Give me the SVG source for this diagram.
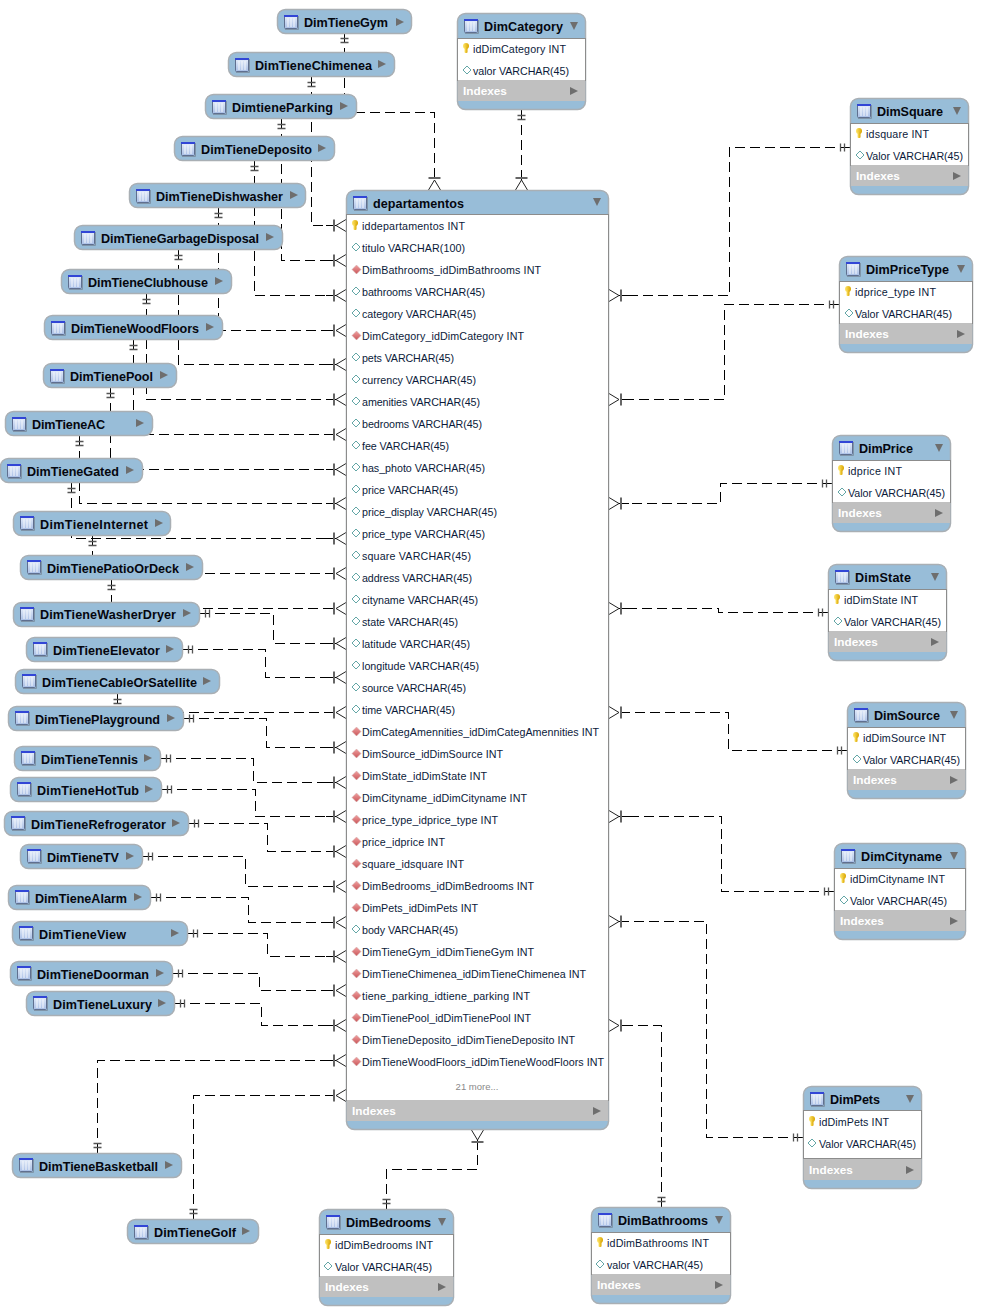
<svg xmlns="http://www.w3.org/2000/svg" width="992" height="1316" viewBox="0 0 992 1316">
<style>
text{font-family:"Liberation Sans",Arial,sans-serif}
.bg{fill:#fff}
.n,.t{fill:#98bdd8;stroke:#a9afb4;stroke-width:1.5}
.b{fill:#fff;stroke:#8c8c8c;stroke-width:1}
.ix{fill:#c0c0c0;stroke:none}
.tt{font-size:12.6px;font-weight:700;fill:#05070f}
.r{font-size:10.7px;fill:#0b1a3a}
.ixt{font-size:11.8px;font-weight:700;fill:#fff}
.more{font-size:9.5px;fill:#8a8a8a}
.tri{fill:#6e6e6e}
.c{fill:none;stroke:#000;stroke-width:1;stroke-dasharray:10 5;shape-rendering:crispEdges;marker-start:url(#one);marker-end:url(#many)}
</style>
<defs>
<linearGradient id="ig" x1="0" y1="0" x2="0" y2="1"><stop offset="0" stop-color="#e6eefa"/><stop offset="1" stop-color="#a9bfe6"/></linearGradient>
<linearGradient id="kg" x1="0" y1="0" x2="1" y2="0"><stop offset="0" stop-color="#ffe66a"/><stop offset="1" stop-color="#d9a400"/></linearGradient>
<linearGradient id="fg" x1="0" y1="0" x2="0" y2="1"><stop offset="0" stop-color="#f0a0a0"/><stop offset="1" stop-color="#c95558"/></linearGradient>
<g id="ico"><rect x="0.5" y="0.5" width="13" height="13" rx="1" fill="url(#ig)" stroke="#5f6f8f"/><rect x="0" y="0" width="14" height="2" fill="#3246d6"/><path d="M4 3V12M7 3V12M10 3V12" stroke="#f4f7fc" stroke-width="1" fill="none"/><path d="M1 14.5H14.5V1" stroke="#7f94a8" fill="none"/></g>
<g id="key"><ellipse cx="3" cy="3" rx="3" ry="3" fill="url(#kg)"/><rect x="1.5" y="4" width="3" height="6" rx="1" fill="url(#kg)"/></g>
<path id="dia" d="M0 4L4 0L8 4L4 8Z" fill="#fff" stroke="#63a6a6"/>
<path id="fk" d="M0 4.5L4.5 0L9 4.5L4.5 9Z" fill="url(#fg)" stroke="#d0b0b0" stroke-width=".5"/>
<path id="rt" d="M0 0L8 4L0 8Z" class="tri"/>
<path id="dn" d="M0 0H8L4 8Z" class="tri"/>
<marker id="many" markerUnits="userSpaceOnUse" markerWidth="24" markerHeight="16" refX="4" refY="8" orient="auto" overflow="visible"><path d="M-6 8H2" stroke="#000" stroke-width="1" fill="none"/><path d="M2 2V14" stroke="#666" stroke-width="2" fill="none"/><path d="M4 8L14 2M4 8L14 14" stroke="#222" stroke-width="1" fill="none"/></marker>
<marker id="one" markerUnits="userSpaceOnUse" markerWidth="16" markerHeight="12" refX="0" refY="6" orient="auto" overflow="visible"><path d="M5.5 2V10M9.5 2V10" stroke="#555" stroke-width="1.3" fill="none"/></marker>
</defs>
<rect class="bg" x="0" y="0" width="992" height="1316"/>
<g id="connectors">
<path class="c" d="M344.5 33V112.5H434.5V180"/>
<path class="c" d="M521.5 110V180"/>
<path class="c" d="M311.5 77V225.5H336"/>
<path class="c" d="M281.5 119V260.5H336"/>
<path class="c" d="M254.5 161V295.5H336"/>
<path class="c" d="M218.5 208V330.5H336"/>
<path class="c" d="M178.5 250V364.5H336"/>
<path class="c" d="M146.5 294V399.5H336"/>
<path class="c" d="M133.5 340V434.5H336"/>
<path class="c" d="M110.5 388V469.5H336"/>
<path class="c" d="M79.5 436V503.5H336"/>
<path class="c" d="M71.5 483V538.5H336"/>
<path class="c" d="M92.5 536V573.5H336"/>
<path class="c" d="M111.5 580V608.5H336"/>
<path class="c" d="M200 613.5H273.5V643.5H336"/>
<path class="c" d="M183 649.5H265.5V677.5H336"/>
<path class="c" d="M117.5 694V712.5H336"/>
<path class="c" d="M184 718.5H266.5V747.5H336"/>
<path class="c" d="M161 758.5H253.5V782.5H336"/>
<path class="c" d="M162 789.5H255.5V816.5H336"/>
<path class="c" d="M189 823.5H267.5V851.5H336"/>
<path class="c" d="M143 856.5H245.5V886.5H336"/>
<path class="c" d="M151 897.5H248.5V922.5H336"/>
<path class="c" d="M188 933.5H267.5V956.5H336"/>
<path class="c" d="M173 973.5H259.5V990.5H336"/>
<path class="c" d="M175 1003.5H261.5V1025.5H336"/>
<path class="c" d="M97.5 1153V1060.5H336"/>
<path class="c" d="M193.5 1219V1095.5H336"/>
<path class="c" d="M386.5 1209V1169.5H477.5V1140"/>
<path class="c" d="M661.5 1207V1025.5H619"/>
<path class="c" d="M850 147.5H729.5V295.5H619"/>
<path class="c" d="M839 304.5H724.5V399.5H619"/>
<path class="c" d="M832 483.5H720.5V503.5H619"/>
<path class="c" d="M828 612.5H718.5V608.5H619"/>
<path class="c" d="M847 750.5H728.5V712.5H619"/>
<path class="c" d="M834 891.5H721.5V816.5H619"/>
<path class="c" d="M803 1137.5H706.5V921.5H619"/>
</g>
<g id="DimTieneGym"><rect class="n" x="277.5" y="9.5" width="134" height="24" rx="8"/><use href="#ico" x="284" y="15"/><text class="tt" x="304" y="27" textLength="84">DimTieneGym</text><use href="#rt" x="396" y="18"/></g>
<g id="DimTieneChimenea"><rect class="n" x="228.5" y="52.5" width="166" height="24" rx="8"/><use href="#ico" x="235" y="58"/><text class="tt" x="255" y="70" textLength="117">DimTieneChimenea</text><use href="#rt" x="378" y="60"/></g>
<g id="DimtieneParking"><rect class="n" x="205.5" y="94.5" width="151" height="24" rx="8"/><use href="#ico" x="212" y="100"/><text class="tt" x="232" y="112" textLength="101">DimtieneParking</text><use href="#rt" x="340" y="102"/></g>
<g id="DimTieneDeposito"><rect class="n" x="174.5" y="136.5" width="160" height="24" rx="8"/><use href="#ico" x="181" y="142"/><text class="tt" x="201" y="154" textLength="111">DimTieneDeposito</text><use href="#rt" x="318" y="144"/></g>
<g id="DimTieneDishwasher"><rect class="n" x="129.5" y="183.5" width="176" height="24" rx="8"/><use href="#ico" x="136" y="189"/><text class="tt" x="156" y="201" textLength="127">DimTieneDishwasher</text><use href="#rt" x="290" y="191"/></g>
<g id="DimTieneGarbageDisposal"><rect class="n" x="74.5" y="225.5" width="208" height="24" rx="8"/><use href="#ico" x="81" y="231"/><text class="tt" x="101" y="243" textLength="158">DimTieneGarbageDisposal</text><use href="#rt" x="266" y="233"/></g>
<g id="DimTieneClubhouse"><rect class="n" x="61.5" y="269.5" width="170" height="24" rx="8"/><use href="#ico" x="68" y="275"/><text class="tt" x="88" y="287" textLength="120">DimTieneClubhouse</text><use href="#rt" x="215" y="277"/></g>
<g id="DimTieneWoodFloors"><rect class="n" x="44.5" y="315.5" width="178" height="24" rx="8"/><use href="#ico" x="51" y="321"/><text class="tt" x="71" y="333" textLength="128">DimTieneWoodFloors</text><use href="#rt" x="206" y="323"/></g>
<g id="DimTienePool"><rect class="n" x="43.5" y="363.5" width="133" height="24" rx="8"/><use href="#ico" x="50" y="369"/><text class="tt" x="70" y="381" textLength="83">DimTienePool</text><use href="#rt" x="160" y="371"/></g>
<g id="DimTieneAC"><rect class="n" x="5.5" y="411.5" width="147" height="24" rx="8"/><use href="#ico" x="12" y="417"/><text class="tt" x="32" y="429" textLength="73">DimTieneAC</text><use href="#rt" x="136" y="419"/></g>
<g id="DimTieneGated"><rect class="n" x="0.5" y="458.5" width="142" height="24" rx="8"/><use href="#ico" x="7" y="464"/><text class="tt" x="27" y="476" textLength="92">DimTieneGated</text><use href="#rt" x="126" y="466"/></g>
<g id="DimTieneInternet"><rect class="n" x="13.5" y="511.5" width="157" height="24" rx="8"/><use href="#ico" x="20" y="516"/><text class="tt" x="40" y="529" textLength="108">DimTieneInternet</text><use href="#rt" x="155" y="519"/></g>
<g id="DimTienePatioOrDeck"><rect class="n" x="20.5" y="555.5" width="182" height="24" rx="8"/><use href="#ico" x="27" y="560"/><text class="tt" x="47" y="573" textLength="132">DimTienePatioOrDeck</text><use href="#rt" x="186" y="563"/></g>
<g id="DimTieneWasherDryer"><rect class="n" x="13.5" y="602.5" width="186" height="24" rx="8"/><use href="#ico" x="20" y="607"/><text class="tt" x="40" y="619" textLength="136">DimTieneWasherDryer</text><use href="#rt" x="183" y="609"/></g>
<g id="DimTieneElevator"><rect class="n" x="26.5" y="637.5" width="156" height="24" rx="8"/><use href="#ico" x="33" y="642"/><text class="tt" x="53" y="655" textLength="107">DimTieneElevator</text><use href="#rt" x="166" y="645"/></g>
<g id="DimTieneCableOrSatellite"><rect class="n" x="15.5" y="669.5" width="204" height="24" rx="8"/><use href="#ico" x="22" y="674"/><text class="tt" x="42" y="687" textLength="155">DimTieneCableOrSatellite</text><use href="#rt" x="203" y="677"/></g>
<g id="DimTienePlayground"><rect class="n" x="8.5" y="706.5" width="175" height="24" rx="8"/><use href="#ico" x="15" y="711"/><text class="tt" x="35" y="724" textLength="125">DimTienePlayground</text><use href="#rt" x="167" y="714"/></g>
<g id="DimTieneTennis"><rect class="n" x="14.5" y="746.5" width="146" height="24" rx="8"/><use href="#ico" x="21" y="751"/><text class="tt" x="41" y="764" textLength="97">DimTieneTennis</text><use href="#rt" x="144" y="754"/></g>
<g id="DimTieneHotTub"><rect class="n" x="10.5" y="777.5" width="151" height="24" rx="8"/><use href="#ico" x="17" y="782"/><text class="tt" x="37" y="795" textLength="102">DimTieneHotTub</text><use href="#rt" x="145" y="785"/></g>
<g id="DimTieneRefrogerator"><rect class="n" x="4.5" y="811.5" width="184" height="24" rx="8"/><use href="#ico" x="11" y="816"/><text class="tt" x="31" y="829" textLength="135">DimTieneRefrogerator</text><use href="#rt" x="172" y="819"/></g>
<g id="DimTieneTV"><rect class="n" x="20.5" y="844.5" width="122" height="24" rx="8"/><use href="#ico" x="27" y="849"/><text class="tt" x="47" y="862" textLength="72">DimTieneTV</text><use href="#rt" x="126" y="852"/></g>
<g id="DimTieneAlarm"><rect class="n" x="8.5" y="885.5" width="142" height="24" rx="8"/><use href="#ico" x="15" y="890"/><text class="tt" x="35" y="903" textLength="92">DimTieneAlarm</text><use href="#rt" x="134" y="893"/></g>
<g id="DimTieneView"><rect class="n" x="12.5" y="921.5" width="175" height="24" rx="8"/><use href="#ico" x="19" y="926"/><text class="tt" x="39" y="939" textLength="87">DimTieneView</text><use href="#rt" x="171" y="929"/></g>
<g id="DimTieneDoorman"><rect class="n" x="10.5" y="961.5" width="162" height="24" rx="8"/><use href="#ico" x="17" y="966"/><text class="tt" x="37" y="979" textLength="112">DimTieneDoorman</text><use href="#rt" x="156" y="969"/></g>
<g id="DimTieneLuxury"><rect class="n" x="26.5" y="991.5" width="148" height="24" rx="8"/><use href="#ico" x="33" y="996"/><text class="tt" x="53" y="1009" textLength="99">DimTieneLuxury</text><use href="#rt" x="158" y="999"/></g>
<g id="DimTieneBasketball"><rect class="n" x="12.5" y="1153.5" width="169" height="24" rx="8"/><use href="#ico" x="19" y="1158"/><text class="tt" x="39" y="1171" textLength="119">DimTieneBasketball</text><use href="#rt" x="165" y="1161"/></g>
<g id="DimTieneGolf"><rect class="n" x="127.5" y="1219.5" width="131" height="24" rx="8"/><use href="#ico" x="134" y="1225"/><text class="tt" x="154" y="1237" textLength="82">DimTieneGolf</text><use href="#rt" x="242" y="1227"/></g>
<g id="DimCategory"><rect class="t" x="457.5" y="13.5" width="128" height="96" rx="8"/><rect class="b" x="457.5" y="38.5" width="128" height="42"/><rect class="ix" x="458" y="80" width="127" height="21"/><use href="#ico" x="464" y="19"/><text class="tt" x="484" y="31" textLength="79">DimCategory</text><use href="#dn" x="570" y="22"/><use href="#key" x="463" y="43"/><text class="r" x="473" y="53" textLength="93">idDimCategory INT</text><use href="#dia" x="463" y="66"/><text class="r" x="473" y="75" textLength="96">valor VARCHAR(45)</text><text class="ixt" x="463" y="95">Indexes</text><use href="#rt" x="570" y="87"/></g>
<g id="DimSquare"><rect class="t" x="850.5" y="98.5" width="118" height="96" rx="8"/><rect class="b" x="850.5" y="123.5" width="118" height="42"/><rect class="ix" x="851" y="165" width="117" height="21"/><use href="#ico" x="857" y="104"/><text class="tt" x="877" y="116" textLength="66">DimSquare</text><use href="#dn" x="953" y="107"/><use href="#key" x="856" y="128"/><text class="r" x="866" y="138" textLength="63">idsquare INT</text><use href="#dia" x="856" y="151"/><text class="r" x="866" y="160" textLength="97">Valor VARCHAR(45)</text><text class="ixt" x="856" y="180">Indexes</text><use href="#rt" x="953" y="172"/></g>
<g id="DimPriceType"><rect class="t" x="839.5" y="256.5" width="133" height="96" rx="8"/><rect class="b" x="839.5" y="281.5" width="133" height="42"/><rect class="ix" x="840" y="323" width="132" height="21"/><use href="#ico" x="846" y="262"/><text class="tt" x="866" y="274" textLength="83">DimPriceType</text><use href="#dn" x="957" y="265"/><use href="#key" x="845" y="286"/><text class="r" x="855" y="296" textLength="81">idprice_type INT</text><use href="#dia" x="845" y="309"/><text class="r" x="855" y="318" textLength="97">Valor VARCHAR(45)</text><text class="ixt" x="845" y="338">Indexes</text><use href="#rt" x="957" y="330"/></g>
<g id="DimPrice"><rect class="t" x="832.5" y="435.5" width="118" height="96" rx="8"/><rect class="b" x="832.5" y="460.5" width="118" height="42"/><rect class="ix" x="833" y="502" width="117" height="21"/><use href="#ico" x="839" y="441"/><text class="tt" x="859" y="453" textLength="54">DimPrice</text><use href="#dn" x="935" y="444"/><use href="#key" x="838" y="465"/><text class="r" x="848" y="475" textLength="54">idprice INT</text><use href="#dia" x="838" y="488"/><text class="r" x="848" y="497" textLength="97">Valor VARCHAR(45)</text><text class="ixt" x="838" y="517">Indexes</text><use href="#rt" x="935" y="509"/></g>
<g id="DimState"><rect class="t" x="828.5" y="564.5" width="118" height="96" rx="8"/><rect class="b" x="828.5" y="589.5" width="118" height="42"/><rect class="ix" x="829" y="631" width="117" height="21"/><use href="#ico" x="835" y="570"/><text class="tt" x="855" y="582" textLength="56">DimState</text><use href="#dn" x="931" y="573"/><use href="#key" x="834" y="594"/><text class="r" x="844" y="604" textLength="74">idDimState INT</text><use href="#dia" x="834" y="617"/><text class="r" x="844" y="626" textLength="97">Valor VARCHAR(45)</text><text class="ixt" x="834" y="646">Indexes</text><use href="#rt" x="931" y="638"/></g>
<g id="DimSource"><rect class="t" x="847.5" y="702.5" width="118" height="96" rx="8"/><rect class="b" x="847.5" y="727.5" width="118" height="42"/><rect class="ix" x="848" y="769" width="117" height="21"/><use href="#ico" x="854" y="708"/><text class="tt" x="874" y="720" textLength="66">DimSource</text><use href="#dn" x="950" y="711"/><use href="#key" x="853" y="732"/><text class="r" x="863" y="742" textLength="83">idDimSource INT</text><use href="#dia" x="853" y="755"/><text class="r" x="863" y="764" textLength="97">Valor VARCHAR(45)</text><text class="ixt" x="853" y="784">Indexes</text><use href="#rt" x="950" y="776"/></g>
<g id="DimCityname"><rect class="t" x="834.5" y="843.5" width="131" height="96" rx="8"/><rect class="b" x="834.5" y="868.5" width="131" height="42"/><rect class="ix" x="835" y="910" width="130" height="21"/><use href="#ico" x="841" y="849"/><text class="tt" x="861" y="861" textLength="81">DimCityname</text><use href="#dn" x="950" y="852"/><use href="#key" x="840" y="873"/><text class="r" x="850" y="883" textLength="95">idDimCityname INT</text><use href="#dia" x="840" y="896"/><text class="r" x="850" y="905" textLength="97">Valor VARCHAR(45)</text><text class="ixt" x="840" y="925">Indexes</text><use href="#rt" x="950" y="917"/></g>
<g id="DimPets"><rect class="t" x="803.5" y="1086.5" width="118" height="102" rx="8"/><rect class="b" x="803.5" y="1110.5" width="118" height="48"/><rect class="ix" x="804" y="1159" width="117" height="21"/><use href="#ico" x="810" y="1092"/><text class="tt" x="830" y="1104" textLength="50">DimPets</text><use href="#dn" x="906" y="1095"/><use href="#key" x="809" y="1116"/><text class="r" x="819" y="1126" textLength="70">idDimPets INT</text><use href="#dia" x="808" y="1139"/><text class="r" x="819" y="1148" textLength="97">Valor VARCHAR(45)</text><text class="ixt" x="809" y="1174">Indexes</text><use href="#rt" x="906" y="1166"/></g>
<g id="DimBedrooms"><rect class="t" x="319.5" y="1209.5" width="134" height="96" rx="8"/><rect class="b" x="319.5" y="1234.5" width="134" height="42"/><rect class="ix" x="320" y="1276" width="133" height="21"/><use href="#ico" x="326" y="1215"/><text class="tt" x="346" y="1227" textLength="85">DimBedrooms</text><use href="#dn" x="438" y="1218"/><use href="#key" x="325" y="1239"/><text class="r" x="335" y="1249" textLength="98">idDimBedrooms INT</text><use href="#dia" x="324" y="1262"/><text class="r" x="335" y="1271" textLength="97">Valor VARCHAR(45)</text><text class="ixt" x="325" y="1291">Indexes</text><use href="#rt" x="438" y="1283"/></g>
<g id="DimBathrooms"><rect class="t" x="591.5" y="1207.5" width="139" height="96" rx="8"/><rect class="b" x="591.5" y="1232.5" width="139" height="42"/><rect class="ix" x="592" y="1274" width="138" height="21"/><use href="#ico" x="598" y="1213"/><text class="tt" x="618" y="1225" textLength="90">DimBathrooms</text><use href="#dn" x="715" y="1216"/><use href="#key" x="597" y="1237"/><text class="r" x="607" y="1247" textLength="102">idDimBathrooms INT</text><use href="#dia" x="596" y="1260"/><text class="r" x="607" y="1269" textLength="96">valor VARCHAR(45)</text><text class="ixt" x="597" y="1289">Indexes</text><use href="#rt" x="715" y="1281"/></g>
<g id="departamentos"><rect class="t" x="346.5" y="190.5" width="262" height="939" rx="8"/><rect class="b" x="346.5" y="214.5" width="262" height="886"/><rect class="ix" x="347" y="1100" width="261" height="21"/><use href="#ico" x="353" y="196"/><text class="tt" x="373" y="208" textLength="91">departamentos</text><use href="#dn" x="593" y="198"/>
<use href="#key" x="352" y="220"/><text class="r" x="362" y="230" textLength="103">iddepartamentos INT</text>
<use href="#dia" x="352" y="243"/><text class="r" x="362" y="252" textLength="103">titulo VARCHAR(100)</text>
<use href="#fk" x="352" y="265"/><text class="r" x="362" y="274" textLength="179">DimBathrooms_idDimBathrooms INT</text>
<use href="#dia" x="352" y="287"/><text class="r" x="362" y="296" textLength="123">bathrooms VARCHAR(45)</text>
<use href="#dia" x="352" y="309"/><text class="r" x="362" y="318" textLength="114">category VARCHAR(45)</text>
<use href="#fk" x="352" y="331"/><text class="r" x="362" y="340" textLength="162">DimCategory_idDimCategory INT</text>
<use href="#dia" x="352" y="353"/><text class="r" x="362" y="362" textLength="92">pets VARCHAR(45)</text>
<use href="#dia" x="352" y="375"/><text class="r" x="362" y="384" textLength="114">currency VARCHAR(45)</text>
<use href="#dia" x="352" y="397"/><text class="r" x="362" y="406" textLength="118">amenities VARCHAR(45)</text>
<use href="#dia" x="352" y="419"/><text class="r" x="362" y="428" textLength="120">bedrooms VARCHAR(45)</text>
<use href="#dia" x="352" y="441"/><text class="r" x="362" y="450" textLength="87">fee VARCHAR(45)</text>
<use href="#dia" x="352" y="463"/><text class="r" x="362" y="472" textLength="123">has_photo VARCHAR(45)</text>
<use href="#dia" x="352" y="485"/><text class="r" x="362" y="494" textLength="96">price VARCHAR(45)</text>
<use href="#dia" x="352" y="507"/><text class="r" x="362" y="516" textLength="135">price_display VARCHAR(45)</text>
<use href="#dia" x="352" y="529"/><text class="r" x="362" y="538" textLength="123">price_type VARCHAR(45)</text>
<use href="#dia" x="352" y="551"/><text class="r" x="362" y="560" textLength="109">square VARCHAR(45)</text>
<use href="#dia" x="352" y="573"/><text class="r" x="362" y="582" textLength="110">address VARCHAR(45)</text>
<use href="#dia" x="352" y="595"/><text class="r" x="362" y="604" textLength="116">cityname VARCHAR(45)</text>
<use href="#dia" x="352" y="617"/><text class="r" x="362" y="626" textLength="96">state VARCHAR(45)</text>
<use href="#dia" x="352" y="639"/><text class="r" x="362" y="648" textLength="108">latitude VARCHAR(45)</text>
<use href="#dia" x="352" y="661"/><text class="r" x="362" y="670" textLength="117">longitude VARCHAR(45)</text>
<use href="#dia" x="352" y="683"/><text class="r" x="362" y="692" textLength="104">source VARCHAR(45)</text>
<use href="#dia" x="352" y="705"/><text class="r" x="362" y="714" textLength="93">time VARCHAR(45)</text>
<use href="#fk" x="352" y="727"/><text class="r" x="362" y="736" textLength="237">DimCategAmennities_idDimCategAmennities INT</text>
<use href="#fk" x="352" y="749"/><text class="r" x="362" y="758" textLength="141">DimSource_idDimSource INT</text>
<use href="#fk" x="352" y="771"/><text class="r" x="362" y="780" textLength="125">DimState_idDimState INT</text>
<use href="#fk" x="352" y="793"/><text class="r" x="362" y="802" textLength="165">DimCityname_idDimCityname INT</text>
<use href="#fk" x="352" y="815"/><text class="r" x="362" y="824" textLength="136">price_type_idprice_type INT</text>
<use href="#fk" x="352" y="837"/><text class="r" x="362" y="846" textLength="83">price_idprice INT</text>
<use href="#fk" x="352" y="859"/><text class="r" x="362" y="868" textLength="102">square_idsquare INT</text>
<use href="#fk" x="352" y="881"/><text class="r" x="362" y="890" textLength="172">DimBedrooms_idDimBedrooms INT</text>
<use href="#fk" x="352" y="903"/><text class="r" x="362" y="912" textLength="116">DimPets_idDimPets INT</text>
<use href="#dia" x="352" y="925"/><text class="r" x="362" y="934" textLength="96">body VARCHAR(45)</text>
<use href="#fk" x="352" y="947"/><text class="r" x="362" y="956" textLength="172">DimTieneGym_idDimTieneGym INT</text>
<use href="#fk" x="352" y="969"/><text class="r" x="362" y="978" textLength="224">DimTieneChimenea_idDimTieneChimenea INT</text>
<use href="#fk" x="352" y="991"/><text class="r" x="362" y="1000" textLength="168">tiene_parking_idtiene_parking INT</text>
<use href="#fk" x="352" y="1013"/><text class="r" x="362" y="1022" textLength="169">DimTienePool_idDimTienePool INT</text>
<use href="#fk" x="352" y="1035"/><text class="r" x="362" y="1044" textLength="213">DimTieneDeposito_idDimTieneDeposito INT</text>
<use href="#fk" x="352" y="1057"/><text class="r" x="362" y="1066" textLength="242">DimTieneWoodFloors_idDimTieneWoodFloors INT</text>
<text class="more" x="477" y="1090" text-anchor="middle">21 more...</text>
<text class="ixt" x="352" y="1115">Indexes</text><use href="#rt" x="593" y="1107"/></g>
</svg>
